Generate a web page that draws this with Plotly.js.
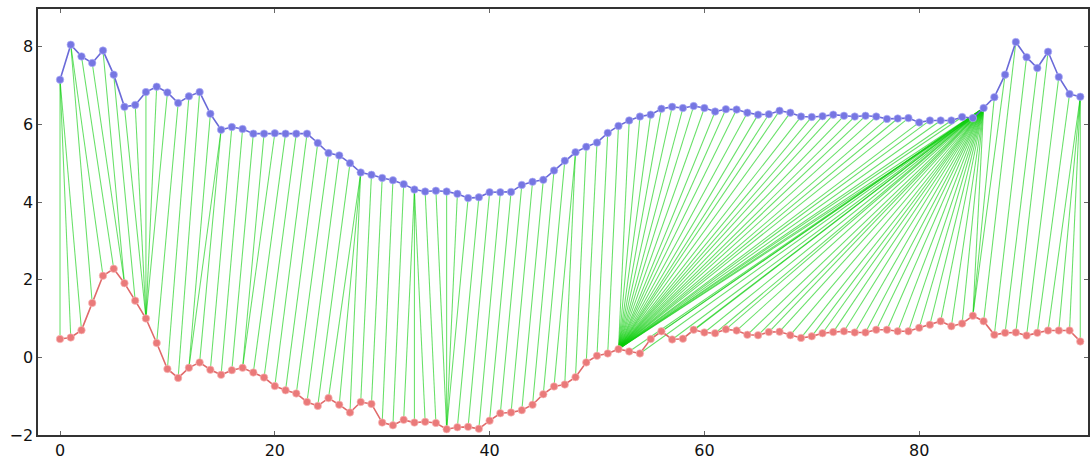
<!DOCTYPE html>
<html>
<head>
<meta charset="utf-8">
<script src="https://cdn.plot.ly/plotly-3.0.1.min.js"></script>
<style>html,body{margin:0;padding:0;background:#fff;}#chart{width:1090px;height:460px;}</style>
</head>
<body>
<div id="chart"></div>
<script>
// Upper (blue) series values, index 0..95
const blueSeries = [7.15,8.05,7.75,7.58,7.9,7.28,6.45,6.5,6.83,6.97,6.82,6.55,6.72,6.83,6.27,5.86,5.93,5.88,5.76,5.76,
  5.77,5.76,5.76,5.76,5.52,5.26,5.2,5.0,4.76,4.7,4.62,4.56,4.46,4.32,4.27,4.29,4.27,4.21,4.1,4.12,
  4.25,4.25,4.26,4.44,4.52,4.57,4.81,5.06,5.28,5.42,5.53,5.78,5.96,6.1,6.2,6.25,6.4,6.45,6.42,6.47,
  6.42,6.33,6.39,6.38,6.3,6.25,6.26,6.35,6.3,6.2,6.19,6.21,6.25,6.22,6.2,6.22,6.2,6.14,6.15,6.16,
  6.05,6.1,6.1,6.1,6.19,6.16,6.42,6.7,7.28,8.12,7.73,7.45,7.87,7.22,6.78,6.71];
// Lower (red) series values, index 0..95
const redSeries = [0.47,0.51,0.7,1.4,2.1,2.28,1.91,1.46,1.0,0.37,-0.3,-0.53,-0.27,-0.13,-0.32,-0.45,-0.33,-0.27,-0.39,-0.52,
  -0.74,-0.85,-0.93,-1.15,-1.25,-1.05,-1.22,-1.42,-1.15,-1.2,-1.68,-1.75,-1.61,-1.68,-1.66,-1.69,-1.85,-1.8,-1.79,-1.84,
  -1.63,-1.44,-1.42,-1.36,-1.22,-0.95,-0.75,-0.7,-0.51,-0.13,0.04,0.1,0.21,0.15,0.1,0.47,0.67,0.46,0.48,0.71,
  0.64,0.62,0.72,0.69,0.58,0.57,0.65,0.66,0.57,0.5,0.54,0.62,0.65,0.67,0.64,0.64,0.71,0.71,0.67,0.67,
  0.76,0.84,0.93,0.8,0.87,1.07,0.93,0.58,0.63,0.64,0.56,0.63,0.69,0.69,0.69,0.41];
// Warping path: pairs (blue index, red index)
const pathBlue = [0,0,0,1,1,2,3,4,5,6,7,8,9,10,
  11,12,13,14,15,15,16,17,18,19,20,
  21,22,23,24,25,26,27,28,28,28,
  29,30,31,32,33,33,33,
  34,35,36,37,38,
  39,40,41,42,43,44,45,46,47,48,
  48,49,50,51,52,53,
  54,55,56,57,58,59,60,61,62,63,64,65,66,67,68,69,70,71,72,73,74,75,76,77,78,79,80,81,82,83,84,85,86,
  86,86,86,86,86,86,86,86,86,86,86,86,86,86,86,86,86,86,86,86,86,86,86,86,86,86,86,86,86,86,86,86,86,
  87,88,89,90,91,92,93,94,95,95,95,95];
const pathRed = [0,1,2,3,4,5,6,6,7,8,8,8,8,8,
  9,10,11,12,12,13,14,15,16,17,17,
  18,19,20,21,22,23,24,25,26,27,
  28,29,30,31,32,33,34,
  35,36,36,36,36,
  37,38,39,40,41,42,43,44,45,46,
  47,48,49,50,51,52,
  52,52,52,52,52,52,52,52,52,52,52,52,52,52,52,52,52,52,52,52,52,52,52,52,52,52,52,52,52,52,52,52,52,
  53,54,55,56,57,58,59,60,61,62,63,64,65,66,67,68,69,70,71,72,73,74,75,76,77,78,79,80,81,82,83,84,85,
  85,85,86,87,88,89,90,91,92,93,94,95];
const xTicks = [0,20,40,60,80];
const yTicks = [-2,0,2,4,6,8];

const idx = blueSeries.map((_, i) => i);
const gx = [], gy = [];
for (let k = 0; k < pathBlue.length; k++) {
  const b = pathBlue[k], r = pathRed[k];
  gx.push(b, r, null);
  gy.push(blueSeries[b], redSeries[r], null);
}

const traces = [
  {x: gx, y: gy, type: 'scatter', mode: 'lines', hoverinfo: 'skip',
   line: {color: 'rgba(10,205,10,0.62)', width: 1.05}, connectgaps: false},
  {x: idx, y: blueSeries, type: 'scatter', mode: 'lines+markers',
   line: {color: '#6a6ad8', width: 1.6},
   marker: {color: '#7676e2', size: 7.5, line: {color: 'rgba(180,180,250,0.8)', width: 0.8}}},
  {x: idx, y: redSeries, type: 'scatter', mode: 'lines+markers',
   line: {color: '#e06a6a', width: 1.6},
   marker: {color: '#ea7a7a', size: 7.5, line: {color: 'rgba(250,190,190,0.8)', width: 0.8}}}
];

const axisCommon = {
  showgrid: false, zeroline: false, showline: true, mirror: 'ticks',
  linecolor: '#333', linewidth: 1.6, ticks: 'inside', ticklen: 4, tickcolor: '#666',
  tickfont: {family: 'DejaVu Sans, sans-serif', size: 16, color: '#111'}
};

const layout = {
  width: 1090, height: 460,
  margin: {l: 38, r: 2, t: 9, b: 25},
  paper_bgcolor: '#fff', plot_bgcolor: '#fff',
  showlegend: false,
  xaxis: Object.assign({}, axisCommon, {range: [-2.05, 95.72], tickvals: xTicks, ticktext: xTicks.map(String)}),
  yaxis: Object.assign({}, axisCommon, {range: [-2, 8.97], tickvals: yTicks})
};

Plotly.newPlot('chart', traces, layout, {displayModeBar: false, staticPlot: true});
</script>
</body>
</html>
